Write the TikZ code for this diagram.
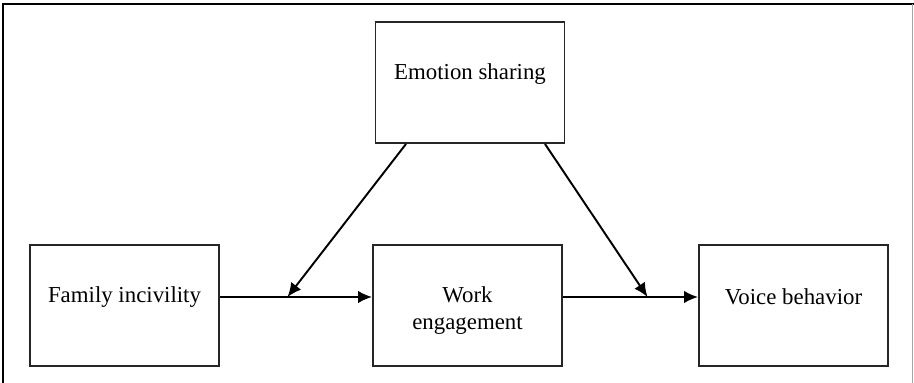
\documentclass[tikz,border=0pt]{standalone}
\usepackage{fontspec}
\setmainfont{Liberation Serif}
\usetikzlibrary{arrows.meta}
\begin{document}
\begin{tikzpicture}[every node/.style={font=\fontsize{13}{15.5}\selectfont},
  box/.style={draw=black!85,line width=1.1pt,minimum width=3.78cm,minimum height=2.42cm,inner sep=0pt},
  link/.style={line width=1.1pt,-{Latex[length=2.8mm,width=2.5mm]}}]
\useasboundingbox (0,0) rectangle (18.28,-7.66);
\draw[line width=1pt] (0.06,-7.66) -- (0.06,-0.08) -- (18.28,-0.08);
\draw[black!35,line width=0.5pt] (18.24,-0.08) -- (18.24,-7.66);
\node[box,label={[yshift=0.17cm]center:Emotion sharing}] (emo) at (9.40,-1.65) {};
\node[box,label={[yshift=0.17cm]center:Family incivility}] (fam) at (2.49,-6.11) {};
\node[box,label={[yshift=-0.1cm,align=center]center:Work\\engagement}] (work) at (9.35,-6.11) {};
\node[box,label={[yshift=0.17cm]center:Voice behavior}] (voice) at (15.87,-6.11) {};
\coordinate (m1) at (5.75,-5.94); \coordinate (m2) at (12.95,-5.94);
\draw[link] ([yshift=0.17cm]fam.east) -- ([yshift=0.17cm]work.west);
\draw[link] ([yshift=0.17cm]work.east) -- ([yshift=0.17cm]voice.west);
\draw[link] ([xshift=-1.28cm]emo.south) -- (m1);
\draw[link] ([xshift=1.5cm]emo.south) -- (m2);
\end{tikzpicture}
\end{document}
